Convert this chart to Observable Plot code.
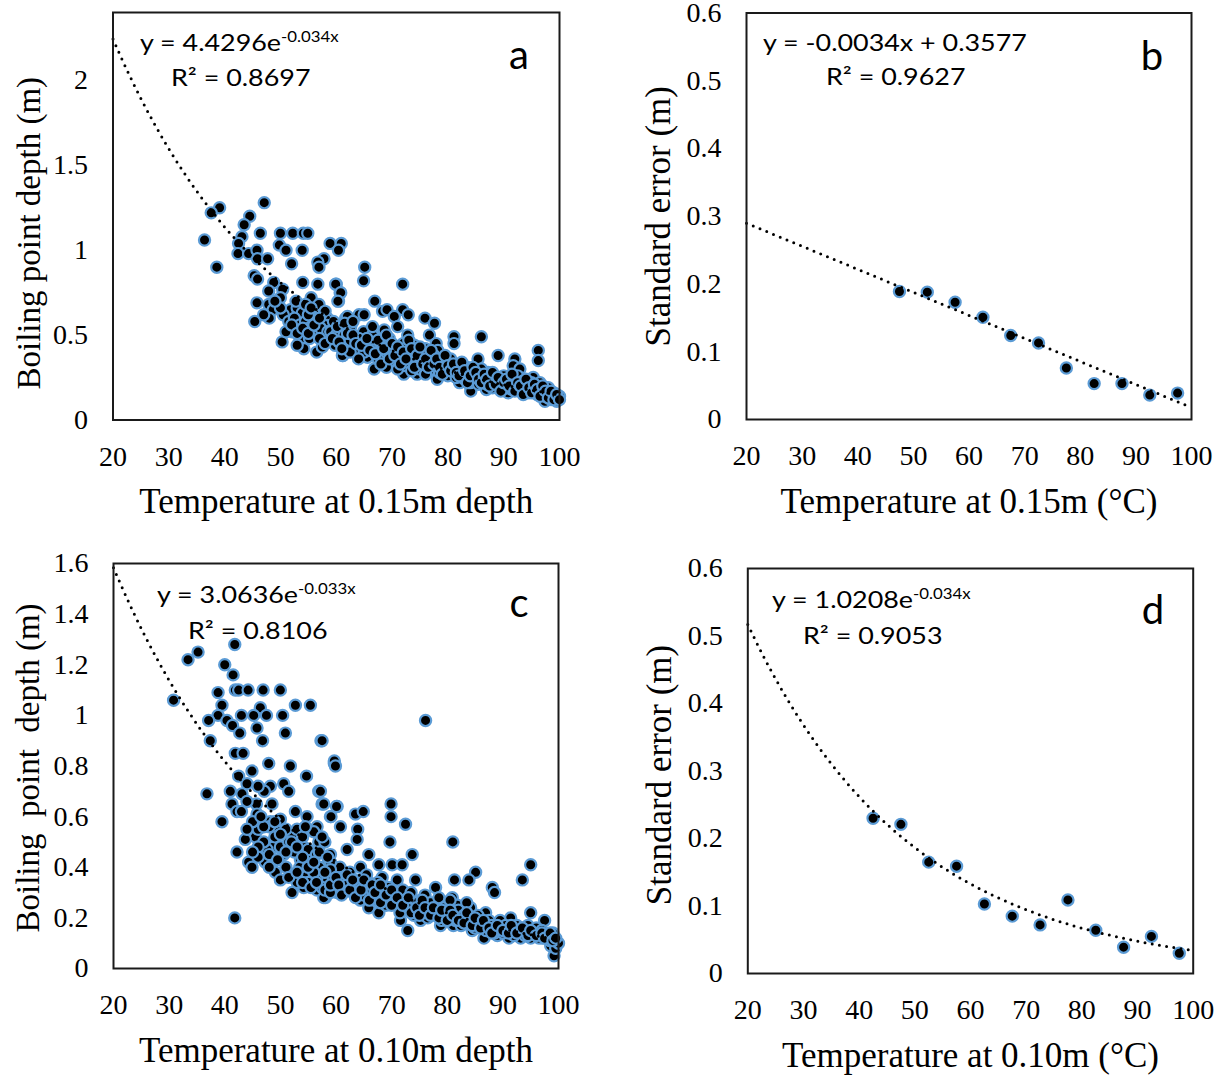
<!DOCTYPE html>
<html>
<head>
<meta charset="utf-8">
<script src="https://cdn.jsdelivr.net/npm/d3@7"></script>
<script src="https://cdn.jsdelivr.net/npm/@observablehq/plot@0.6"></script>
<style>
  html, body { margin: 0; padding: 0; background: #fff; }
  #root { position: relative; width: 1220px; height: 1077px; overflow: hidden; background: #fff; }
  .panel { position: absolute; }
  .panel svg { overflow: visible; }
  .eq { position: absolute; font-family: Lato, "Open Sans", sans-serif; font-size: 24px; line-height: 1.2; color: #000; white-space: nowrap; transform-origin: left top; transform: scaleX(1.12); }
  .eq .sup { font-size: 15px; position: relative; top: -9px; }
  .letter { position: absolute; font-family: Lato, "Open Sans", sans-serif; font-size: 40px; line-height: 1.2; color: #000; white-space: nowrap; transform: translateX(-50%); }
</style>
</head>
<body>
<div id="root"></div>
<script>
// ---------- tick labels ----------
const xTicks = [20, 30, 40, 50, 60, 70, 80, 90, 100];
const yTicksA = [0, 0.5, 1, 1.5, 2];
const yTicksB = [0, 0.1, 0.2, 0.3, 0.4, 0.5, 0.6];
const yTicksC = [0, 0.2, 0.4, 0.6, 0.8, 1, 1.2, 1.4, 1.6];
const yTicksD = [0, 0.1, 0.2, 0.3, 0.4, 0.5, 0.6];

// ---------- panel a: temperature at 0.15 m vs boiling point depth ----------
const aPoints = [
  [39.1,1.25],[37.6,1.22],[47.1,1.28],[36.4,1.06],[38.6,0.90],[44.5,1.20],[43.5,1.15],[43.1,1.08],[42.5,1.04],[42.4,0.98],
  [44.3,0.98],[45.8,1.00],[45.9,0.95],[47.7,0.95],[46.4,1.10],[50.0,1.10],[52.2,1.10],[54.1,1.10],[54.9,1.10],[49.8,1.03],
  [51.0,1.00],[53.9,1.00],[52.0,0.92],[58.9,1.04],[60.9,1.04],[60.4,1.00],[57.8,0.95],[56.7,0.93],[56.9,0.90],[45.3,0.85],
  [45.9,0.83],[48.8,0.81],[54.0,0.81],[56.7,0.80],[60.0,0.80],[60.7,0.75],[60.4,0.70],[47.9,0.76],[50.4,0.77],[50.0,0.72],
  [45.8,0.69],[47.9,0.68],[48.7,0.65],[45.4,0.58],[51.8,0.65],[53.0,0.66],[53.9,0.63],[55.5,0.72],[56.0,0.65],[56.9,0.68],
  [56.0,0.60],[58.4,0.60],[57.8,0.56],[60.3,0.56],[61.7,0.60],[61.4,0.50],[52.1,0.52],[50.3,0.46],[53.5,0.47],[54.2,0.42],
  [56.0,0.50],[57.2,0.54],[59.0,0.47],[56.5,0.40],[57.5,0.43],[61.2,0.38],[62.0,0.44],
  [50.5,0.62],[51.5,0.58],[52.5,0.60],[53.5,0.56],[54.5,0.58],[55.5,0.55],[55.0,0.62],[52.8,0.70],[54.5,0.68],[58.5,0.52],
  [59.5,0.58],[58.0,0.64],[59.8,0.44],[55.2,0.48],[53.0,0.44],[61.5,0.53],
  [51.0,0.52],[52.0,0.56],[53.0,0.51],[54.0,0.54],[55.0,0.51],[56.0,0.56],[57.0,0.48],[58.0,0.45],[59.0,0.52],[60.0,0.50],
  [57.0,0.60],[55.5,0.66],[50.0,0.66],[49.0,0.70],[48.0,0.60],[47.0,0.62],
  [65.1,0.90],[64.9,0.82],[71.9,0.80],[59.9,0.80],[60.8,0.75],[60.3,0.70],[66.9,0.70],[68.3,0.64],[69.1,0.65],[71.9,0.65],
  [72.9,0.62],[70.4,0.61],[75.9,0.60],[77.6,0.57],[64.1,0.62],[65.0,0.62],[62.0,0.61],[60.2,0.55],[61.4,0.50],[59.3,0.48],
  [62.6,0.55],[64.9,0.52],[68.6,0.53],[71.0,0.55],[72.8,0.50],[76.7,0.50],[81.1,0.49],[86.0,0.49],[81.1,0.45],[77.9,0.45],
  [61.1,0.38],[65.9,0.44],[65.6,0.37],[68.3,0.37],[71.0,0.35],[74.9,0.40],[78.2,0.41],[66.8,0.30],[72.1,0.27],[74.5,0.27],
  [78.1,0.24],[81.2,0.33],[83.6,0.27],[82.1,0.22],[84.1,0.17],[85.4,0.36],[89.0,0.38],[87.2,0.28],[89.0,0.22],[92.0,0.36],
  [91.7,0.32],[92.9,0.30],[96.2,0.41],[96.2,0.35],[95.3,0.25],[91.4,0.22],[93.8,0.19],[96.2,0.19],[98.6,0.15],[99.8,0.13],
  [97.4,0.11],[90.8,0.16],[86.9,0.18],
  [62.5,0.47],[63.5,0.42],[64.0,0.48],[65.0,0.40],[66.0,0.46],[66.5,0.50],[67.0,0.42],[67.5,0.36],[68.0,0.45],[69.0,0.40],
  [69.5,0.48],[70.0,0.34],[70.5,0.42],[71.5,0.38],[72.0,0.45],[72.5,0.32],[73.0,0.40],[73.5,0.36],[74.0,0.44],[74.5,0.33],
  [75.0,0.30],[75.5,0.37],[76.0,0.42],[76.5,0.34],[77.0,0.30],[77.5,0.38],[78.5,0.28],[79.0,0.34],[79.5,0.31],[80.0,0.26],
  [80.5,0.36],[81.0,0.29],[81.5,0.25],[82.0,0.32],[82.5,0.28],[83.0,0.24],[83.5,0.31],[84.0,0.22],[84.5,0.28],[85.0,0.25],
  [85.5,0.21],[86.0,0.30],[86.5,0.24],[87.0,0.21],[87.5,0.26],[88.0,0.19],[88.5,0.24],[89.5,0.20],[90.0,0.26],[90.5,0.19],
  [91.0,0.24],[91.5,0.18],[92.0,0.21],[92.5,0.26],[93.0,0.17],[93.5,0.23],[94.0,0.20],[94.5,0.16],[95.0,0.22],[95.5,0.18],
  [96.0,0.15],[96.5,0.22],[97.0,0.17],[97.5,0.14],[98.0,0.19],[98.5,0.12],[99.0,0.16],[99.5,0.11],[100.0,0.14],[99.0,0.13],
  [98.0,0.15],[62.5,0.40],[64.0,0.36],[69.0,0.31],[71.0,0.30],[73.5,0.29],[76.0,0.27],
  [60.5,0.46],[61.0,0.42],[61.5,0.57],[62.0,0.51],[63.0,0.50],[63.0,0.58],[63.5,0.45],[64.5,0.44],[65.5,0.48],[66.0,0.41],
  [66.5,0.55],[67.0,0.39],[67.5,0.47],[68.0,0.33],[68.5,0.42],[69.0,0.50],[69.5,0.36],[70.0,0.45],[70.5,0.38],[71.0,0.43],
  [71.5,0.33],[72.0,0.40],[72.5,0.36],[73.0,0.47],[73.5,0.42],[74.0,0.31],[74.5,0.38],[75.0,0.43],[75.5,0.33],[76.0,0.36],
  [76.5,0.31],[77.0,0.41],[77.5,0.33],[78.0,0.36],[78.5,0.31],[79.0,0.27],[79.5,0.38],[80.0,0.32],[80.5,0.29],[81.0,0.33],
  [81.5,0.28],[82.0,0.26],[82.5,0.34],[83.0,0.29],[83.5,0.22],[84.0,0.26],[84.5,0.31],[85.0,0.28],[85.5,0.24],[86.0,0.22],
  [86.5,0.27],[87.0,0.24],[87.5,0.20],[88.0,0.28],[88.5,0.21],[89.0,0.25],[89.5,0.17],[90.0,0.22],[90.5,0.24],[91.0,0.20],
  [91.5,0.27],[92.0,0.17],[92.5,0.22],[93.0,0.20],[93.5,0.15],[94.0,0.24],[94.5,0.19],[95.0,0.16],[95.5,0.21],[96.0,0.18],
  [96.5,0.14],[97.0,0.20],[97.5,0.17],[98.0,0.13],[98.5,0.17],[99.0,0.12],[99.5,0.15],[100.0,0.12]
];

// ---------- panel b: standard error at 0.15 m ----------
const bTemp = [47.5, 52.5, 57.5, 62.5, 67.5, 72.5, 77.5, 82.5, 87.5, 92.5, 97.5];
const bErr  = [0.189, 0.188, 0.173, 0.151, 0.124, 0.113, 0.076, 0.053, 0.053, 0.036, 0.039];

// ---------- panel c: temperature at 0.10 m vs boiling point depth ----------
const cPoints = [
  [41.8,1.28],[35.2,1.25],[33.4,1.22],[40.0,1.20],[41.5,1.16],[41.9,1.10],[42.5,1.10],[44.2,1.10],[46.9,1.10],[50.0,1.10],
  [30.8,1.06],[38.8,1.09],[39.5,1.04],[46.4,1.03],[52.7,1.04],[55.4,1.04],[38.8,1.00],[37.1,0.98],[40.4,0.98],[43.0,1.00],
  [45.2,1.00],[47.5,1.00],[50.4,1.00],[41.4,0.96],[42.7,0.93],[45.8,0.95],[46.8,0.90],[50.9,0.93],[57.3,0.90],[37.4,0.90],
  [41.9,0.85],[43.3,0.85],[44.9,0.78],[47.9,0.81],[51.8,0.80],[59.7,0.81],[54.7,0.76],[42.5,0.76],[44.0,0.73],[36.8,0.69],
  [41.0,0.70],[43.1,0.69],[48.2,0.72],[50.6,0.73],[51.5,0.70],[56.9,0.70],[47.1,0.70],[41.3,0.65],[45.7,0.65],[42.2,0.62],
  [45.8,0.61],[39.5,0.58],[48.5,0.65],[57.5,0.65],[60.2,0.64],[52.7,0.62],[54.8,0.60],[59.0,0.60],[50.0,0.59],[48.2,0.58],
  [56.6,0.56],[49.7,0.54],[52.1,0.53],[45.5,0.52],[43.7,0.51],[48.8,0.48],[47.6,0.47],[42.2,0.46],[44.3,0.42],[44.9,0.40],
  [47.3,0.42],[49.1,0.38],[54.2,0.48],[56.9,0.50],[50.6,0.45],[53.6,0.43],[55.7,0.44],[59.0,0.45],[52.1,0.37],[54.8,0.37],
  [57.2,0.37],[52.1,0.30],[54.2,0.32],[56.6,0.31],[58.1,0.28],[60.2,0.30],[41.8,0.20],
  [76.1,0.98],[57.5,0.90],[59.7,0.82],[59.9,0.80],[57.2,0.70],[57.8,0.65],[60.1,0.64],[59.1,0.60],[63.5,0.61],[64.9,0.62],
  [69.9,0.65],[69.9,0.60],[72.5,0.57],[60.8,0.56],[63.9,0.55],[63.8,0.51],[69.7,0.50],[81.0,0.50],[62.0,0.47],[65.9,0.45],
  [73.7,0.45],[95.0,0.41],[93.5,0.35],[85.1,0.38],[83.9,0.35],[81.3,0.35],[88.1,0.32],[88.5,0.30],[58.4,0.41],[60.7,0.40],
  [64.4,0.40],[67.7,0.41],[70.1,0.41],[71.9,0.41],[63.5,0.35],[65.9,0.34],[68.3,0.36],[71.0,0.35],[74.3,0.35],[77.9,0.32],
  [57.8,0.28],[61.3,0.30],[64.4,0.27],[65.9,0.24],[67.7,0.22],[71.0,0.25],[71.6,0.19],[72.9,0.15],[75.2,0.27],[77.6,0.25],
  [80.9,0.28],[81.8,0.25],[75.2,0.19],[78.8,0.17],[81.1,0.17],[84.2,0.24],[84.5,0.20],[84.5,0.15],[86.9,0.22],[87.5,0.19],
  [89.0,0.13],[86.6,0.12],[91.4,0.20],[95.0,0.22],[97.5,0.19],[93.2,0.12],[95.0,0.12],[97.1,0.12],[98.6,0.09],[99.2,0.05],
  [91.1,0.12],[89.9,0.16],
  [46.0,0.55],[47.0,0.50],[48.0,0.56],[49.0,0.52],[50.0,0.48],[51.0,0.55],[51.5,0.50],[52.5,0.46],[53.0,0.55],[53.5,0.40],
  [54.0,0.52],[55.0,0.47],[55.5,0.41],[56.0,0.54],[56.5,0.45],[57.0,0.40],[58.0,0.50],[58.5,0.35],[59.0,0.42],[59.5,0.36],
  [53.0,0.34],[51.0,0.40],[55.0,0.34],[56.0,0.38],[57.5,0.32],[50.0,0.35],
  [45.0,0.58],[46.0,0.48],[47.0,0.56],[48.0,0.45],[49.0,0.58],[50.0,0.53],[51.0,0.46],[52.0,0.50],[53.0,0.48],[54.0,0.44],
  [54.5,0.56],[55.0,0.40],[56.0,0.42],[57.0,0.46],[57.5,0.52],[58.5,0.44],[59.0,0.39],[51.5,0.36],[53.0,0.38],[54.0,0.34],
  [55.5,0.32],[56.5,0.34],[58.0,0.31],[59.0,0.30],[46.0,0.44],[48.0,0.40],[49.5,0.43],[45.0,0.46],[46.5,0.60],[44.0,0.55],
  [43.0,0.62],[44.0,0.66],[46.0,0.72],
  [61.0,0.36],[62.0,0.33],[62.5,0.38],[63.0,0.30],[64.0,0.34],[65.0,0.29],[65.5,0.37],[66.5,0.31],[67.0,0.27],[67.5,0.34],
  [68.5,0.29],[69.0,0.25],[69.5,0.32],[70.5,0.28],[71.5,0.22],[72.0,0.31],[72.5,0.27],[73.0,0.24],[73.5,0.30],[74.0,0.21],
  [74.5,0.26],[75.5,0.23],[76.0,0.29],[76.5,0.20],[77.0,0.26],[78.0,0.22],[78.5,0.28],[79.0,0.19],[79.5,0.24],[80.0,0.21],
  [80.5,0.27],[81.5,0.19],[82.0,0.23],[82.5,0.17],[83.0,0.21],[83.5,0.26],[84.0,0.18],[85.0,0.16],[85.5,0.21],[86.0,0.18],
  [87.0,0.15],[88.0,0.17],[88.5,0.14],[89.5,0.19],[90.0,0.14],[90.5,0.17],[91.5,0.15],[92.0,0.13],[92.5,0.17],[93.0,0.15],
  [94.0,0.13],[94.5,0.17],[95.5,0.14],[96.0,0.16],[96.5,0.12],[97.0,0.15],[98.0,0.13],[98.5,0.11],[99.0,0.14],[99.5,0.08],
  [100.0,0.10],
  [58.0,0.38],[59.0,0.33],[60.0,0.36],[60.5,0.33],[61.0,0.29],[62.0,0.37],[62.5,0.31],[63.0,0.35],[63.5,0.28],[64.5,0.31],
  [65.0,0.35],[66.0,0.27],[66.5,0.33],[67.0,0.30],[68.0,0.26],[68.0,0.33],[69.0,0.29],[70.0,0.25],[70.0,0.31],[71.0,0.28],
  [72.0,0.25],[73.0,0.28],[73.5,0.22],[74.5,0.24],[75.0,0.21],[75.5,0.27],[76.0,0.24],[77.0,0.21],[77.5,0.24],[78.5,0.20],
  [79.0,0.23],[80.0,0.19],[80.5,0.23],[81.0,0.21],[82.0,0.19],[83.0,0.18],[83.5,0.22],[84.5,0.17],[85.0,0.20],[86.0,0.16],
  [86.5,0.19],[87.5,0.16],[88.0,0.14],[89.0,0.17],[90.0,0.15],[91.0,0.14],[91.5,0.17],[92.5,0.14],[93.5,0.16],[94.5,0.13],
  [95.0,0.15],[96.0,0.13],[97.0,0.14],[97.5,0.12],[98.5,0.14],[99.0,0.11],[99.5,0.12]
];

// ---------- panel d: standard error at 0.10 m ----------
const dTemp = [42.5, 47.5, 52.5, 57.5, 62.5, 67.5, 72.5, 77.5, 82.5, 87.5, 92.5, 97.5];
const dErr  = [0.230, 0.221, 0.165, 0.159, 0.103, 0.085, 0.072, 0.109, 0.064, 0.039, 0.055, 0.030];

// ---------- trendline coefficients (as printed on the chart) ----------
const aFit = [4.4296, -0.034];   // y = a e^(bx)
const bFit = [-0.0034, 0.3577];  // y = m x + c
const cFit = [3.0636, -0.033];
const dFit = [1.0208, -0.034];

// ---------- build tables ----------
const fitXs = d3.range(20, 100.01, 0.5);
const expCurve = (c) => fitXs.map(x => ({x, y: c[0] * Math.exp(c[1] * x)}));
const linCurve = (c) => fitXs.map(x => ({x, y: c[0] * x + c[1]}));
const pairs = (arr) => arr.map(([x, y]) => ({x, y}));
const zip = (xs, ys) => xs.map((x, i) => ({x, y: ys[i]}));

const SERIF = "'Liberation Serif', 'Times New Roman', serif";
const root = document.getElementById("root");

function panel(cfg) {
  const chart = Plot.plot({
    width: cfg.width,
    height: cfg.height,
    marginLeft: cfg.m[0], marginRight: cfg.m[1], marginTop: cfg.m[2], marginBottom: cfg.m[3],
    x: {type: "linear", domain: [20, 100]},
    y: {type: "linear", domain: cfg.yDomain},
    style: {fontFamily: SERIF, background: "transparent", color: "#000", overflow: "visible"},
    marks: [
      Plot.axisX({ticks: xTicks, tickSize: 0, tickPadding: 26, fontSize: 28, label: null, tickFormat: d => String(d), fill: "#000"}),
      Plot.axisY({ticks: cfg.yTicks, tickSize: 0, tickPadding: 25, fontSize: 28, label: null, tickFormat: d => String(d), fill: "#000"}),
      Plot.dot(cfg.points, {x: "x", y: "y", r: 5.6, fill: "#000", stroke: "#5B9BD5", strokeWidth: 2.2}),
      Plot.line(cfg.curve, {x: "x", y: "y", stroke: "#000", strokeWidth: 3, strokeDasharray: "0,7.3", strokeLinecap: "round"}),
      Plot.frame({stroke: "#1a1a1a", strokeWidth: 2}),
      Plot.text([cfg.xTitle], {text: d => d, frameAnchor: "bottom", textAnchor: "middle", lineAnchor: "middle", dy: 82, fontSize: 35, fill: "#000", fontFamily: SERIF}),
      Plot.text([cfg.yTitle], {text: d => d, frameAnchor: "left", textAnchor: "middle", lineAnchor: "middle", dx: cfg.yDx, dy: cfg.yDy, rotate: -90, fontSize: cfg.yFont, fill: "#000", fontFamily: SERIF})
    ]
  });
  const div = document.createElement("div");
  div.className = "panel";
  div.style.left = cfg.left + "px";
  div.style.top = cfg.top + "px";
  div.appendChild(chart);
  root.appendChild(div);
}

panel({
  left: 0, top: 0, width: 600, height: 540, m: [112.5, 41, 12, 120.5],
  yDomain: [0, 2.4], yTicks: yTicksA, points: pairs(aPoints), curve: expCurve(aFit),
  xTitle: "Temperature at 0.15m depth", yTitle: "Boiling point depth (m)", yDx: -84, yDy: 17, yFont: 33
});
panel({
  left: 610, top: 0, width: 610, height: 540, m: [136, 29, 12.5, 121],
  yDomain: [0, 0.6], yTicks: yTicksB, points: zip(bTemp, bErr), curve: linCurve(bFit),
  xTitle: "Temperature at 0.15m (°C)", yTitle: "Standard error (m)", yDx: -88, yDy: 0, yFont: 35
});
panel({
  left: 0, top: 540, width: 600, height: 537, m: [113, 42, 23, 109],
  yDomain: [0, 1.6], yTicks: yTicksC, points: pairs(cPoints), curve: expCurve(cFit),
  xTitle: "Temperature at 0.10m depth", yTitle: "Boiling\u00a0 point\u00a0 depth (m)", yDx: -85, yDy: 2, yFont: 33
});
panel({
  left: 610, top: 540, width: 610, height: 537, m: [137.3, 27.3, 28, 104],
  yDomain: [0, 0.6], yTicks: yTicksD, points: zip(dTemp, dErr), curve: expCurve(dFit),
  xTitle: "Temperature at 0.10m (°C)", yTitle: "Standard error (m)", yDx: -88, yDy: 4, yFont: 35
});

// ---------- equation annotations & panel letters ----------
function eq(left, baseline, html) {
  const d = document.createElement("div");
  d.className = "eq";
  d.style.left = left + "px";
  d.style.top = (baseline - 0.987 * 24 - 0.1 * 24) + "px";
  d.innerHTML = html;
  root.appendChild(d);
}
function letter(cx, baseline, t) {
  const d = document.createElement("div");
  d.className = "letter";
  d.style.left = cx + "px";
  d.style.top = (baseline - 0.987 * 40 - 0.1 * 40) + "px";
  d.textContent = t;
  root.appendChild(d);
}
eq(140, 54, 'y = 4.4296e<span class="sup">-0.034x</span>');
eq(171, 89, 'R² = 0.8697');
eq(763, 54, 'y = -0.0034x + 0.3577');
eq(826, 88, 'R² = 0.9627');
eq(157, 606, 'y = 3.0636e<span class="sup">-0.033x</span>');
eq(188, 642, 'R² = 0.8106');
eq(772, 611, 'y = 1.0208e<span class="sup">-0.034x</span>');
eq(803, 647, 'R² = 0.9053');
letter(519, 73, "a");
letter(1152, 74, "b");
letter(519, 621, "c");
letter(1153, 628, "d");
</script>
</body>
</html>
